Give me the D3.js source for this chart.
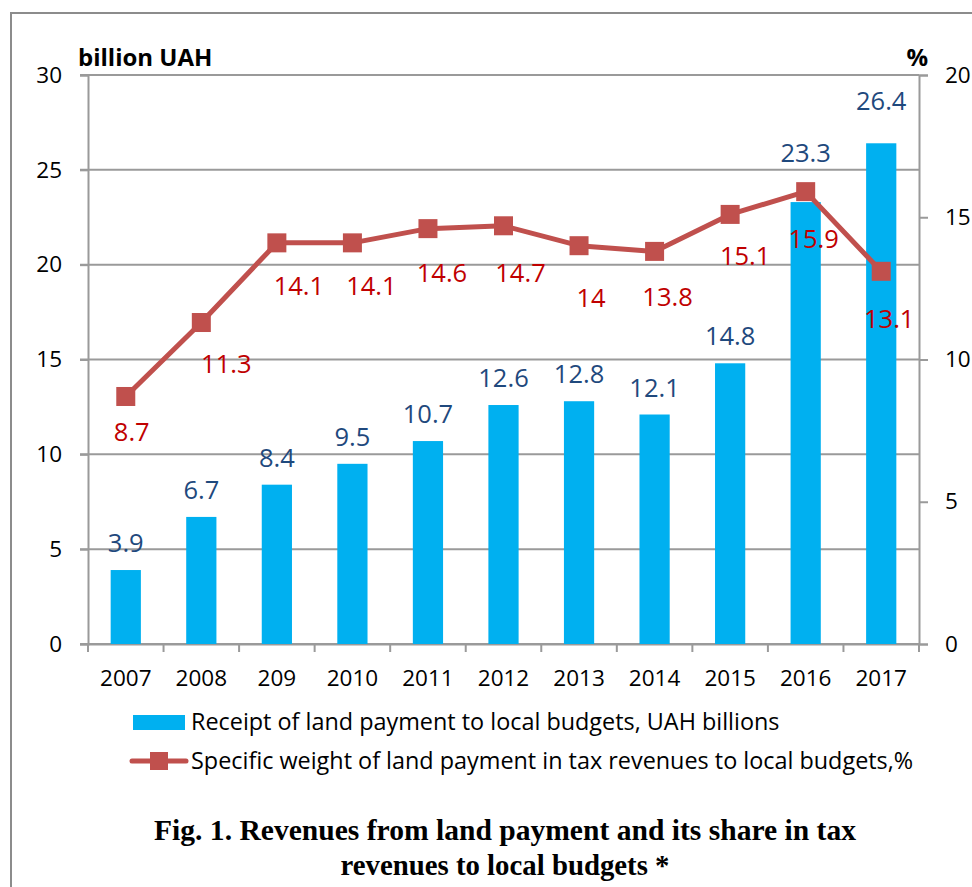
<!DOCTYPE html>
<html>
<head>
<meta charset="utf-8">
<script src="https://cdn.jsdelivr.net/npm/d3@7"></script>
<style>
  body { margin: 0; background: #fff; }
  text { font-family: 'Open Sans', sans-serif; }
</style>
</head>
<body>
<svg id="chart" width="972" height="887"></svg>
<script>
// data
const years = ["2007", "2008", "209", "2010", "2011", "2012", "2013", "2014", "2015", "2016", "2017"];
const receipts = [3.9, 6.7, 8.4, 9.5, 10.7, 12.6, 12.8, 12.1, 14.8, 23.3, 26.4];
const shares = [8.7, 11.3, 14.1, 14.1, 14.6, 14.7, 14, 13.8, 15.1, 15.9, 13.1];
const leftTicks = [0, 5, 10, 15, 20, 25, 30];
const rightTicks = [0, 5, 10, 15, 20];

// hand-placed label nudges (px), as in the original
const barLabelDy = [-18, -18, -18, -18, -18, -18, -18, -18, -18, -40, -33];
const shareLabelDx = [6, 25, 22, 19, 14, 17, 12, 13, 15, 8, 8];
const shareLabelDy = [45, 50, 52, 52, 53, 56, 61, 55, 51, 56, 57];

const svg = d3.select('#chart');
const plotL = 88, plotR = 919, plotT = 75, plotB = 644;
const gridColor = '#9a9a9a';

// outer frame
svg.append('rect')
  .attr('x', 11).attr('y', 13)
  .attr('width', 980).attr('height', 900)
  .attr('fill', 'none')
  .attr('stroke', '#8c8c8c')
  .attr('stroke-width', 2);

const x = d3.scaleBand().domain(years).range([plotL, plotR]);
const yL = d3.scaleLinear().domain([0, 30]).range([plotB, plotT]);
const yR = d3.scaleLinear().domain([0, 20]).range([plotB, plotT]);

// gridlines
svg.append('g').selectAll('line')
  .data(leftTicks)
  .enter().append('line')
  .attr('x1', plotL - 8).attr('x2', plotR)
  .attr('y1', d => yL(d)).attr('y2', d => yL(d))
  .attr('stroke', gridColor).attr('stroke-width', 2);

// left axis
const yAxisL = svg.append('g')
  .attr('transform', 'translate(' + plotL + ',0)')
  .call(d3.axisLeft(yL).tickValues(leftTicks).tickSize(8).tickPadding(18));
yAxisL.selectAll('line, path').attr('stroke', gridColor).attr('stroke-width', 2);
yAxisL.selectAll('text')
  .style('font-family', 'Open Sans')
  .style('font-size', '22.5px')
  .style('fill', '#000');

// right axis
const yAxisR = svg.append('g')
  .attr('transform', 'translate(' + plotR + ',0)')
  .call(d3.axisRight(yR).tickValues(rightTicks).tickSize(9).tickPadding(17));
yAxisR.selectAll('line, path').attr('stroke', gridColor).attr('stroke-width', 2);
yAxisR.selectAll('text')
  .style('font-family', 'Open Sans')
  .style('font-size', '22.5px')
  .style('fill', '#000');

// bottom axis: labels at centres, ticks on band edges
const xAxisG = svg.append('g')
  .attr('transform', 'translate(0,' + plotB + ')')
  .call(d3.axisBottom(x).tickSize(0).tickPadding(26));
xAxisG.select('.domain').attr('stroke', gridColor).attr('stroke-width', 2);
xAxisG.selectAll('text')
  .style('font-family', 'Open Sans')
  .style('font-size', '22.5px')
  .style('fill', '#000');
xAxisG.selectAll('.edge')
  .data(years.concat(['end']))
  .enter().append('line')
  .attr('class', 'edge')
  .attr('x1', (d, i) => plotL + i * x.step())
  .attr('x2', (d, i) => plotL + i * x.step())
  .attr('y1', 0).attr('y2', 8)
  .attr('stroke', gridColor).attr('stroke-width', 2);

// bars
const barW = x.bandwidth() * 0.4;
svg.append('g').selectAll('rect')
  .data(receipts)
  .enter().append('rect')
  .attr('x', (d, i) => x(years[i]) + (x.bandwidth() - barW) / 2)
  .attr('y', d => yL(d))
  .attr('width', barW)
  .attr('height', d => plotB - yL(d))
  .attr('fill', '#00b0f0');

svg.append('g').selectAll('text')
  .data(receipts)
  .enter().append('text')
  .attr('x', (d, i) => x(years[i]) + x.bandwidth() / 2)
  .attr('y', (d, i) => yL(d) + barLabelDy[i])
  .attr('text-anchor', 'middle')
  .style('font-size', '25.5px')
  .style('fill', '#1f497d')
  .text(d => d);

// share line
const cx = (d, i) => x(years[i]) + x.bandwidth() / 2;
const line = d3.line().x(cx).y(d => yR(d));
svg.append('path')
  .datum(shares)
  .attr('d', line)
  .attr('fill', 'none')
  .attr('stroke', '#c0504d')
  .attr('stroke-width', 5)
  .attr('stroke-linejoin', 'round');

svg.append('g').selectAll('rect')
  .data(shares)
  .enter().append('rect')
  .attr('x', (d, i) => cx(d, i) - 9.5)
  .attr('y', d => yR(d) - 9.5)
  .attr('width', 19).attr('height', 19)
  .attr('fill', '#c0504d');

svg.append('g').selectAll('text')
  .data(shares)
  .enter().append('text')
  .attr('x', (d, i) => cx(d, i) + shareLabelDx[i])
  .attr('y', (d, i) => yR(d) + shareLabelDy[i])
  .attr('text-anchor', 'middle')
  .style('font-size', '25.5px')
  .style('fill', '#c00000')
  .text(d => d);

// axis titles
svg.append('text')
  .attr('x', 78).attr('y', 66)
  .style('font-size', '24px').style('font-weight', 'bold')
  .text('billion UAH');
svg.append('text')
  .attr('x', 928).attr('y', 66)
  .attr('text-anchor', 'end')
  .style('font-size', '24px').style('font-weight', 'bold')
  .text('%');

// legend
const legend = svg.append('g');
legend.append('rect')
  .attr('x', 133).attr('y', 715)
  .attr('width', 52).attr('height', 15)
  .attr('fill', '#00b0f0');
legend.append('text')
  .attr('x', 191).attr('y', 730)
  .style('font-size', '23.4px')
  .text('Receipt of land payment to local budgets, UAH billions');
legend.append('line')
  .attr('x1', 132).attr('x2', 186)
  .attr('y1', 761).attr('y2', 761)
  .attr('stroke', '#c0504d').attr('stroke-width', 5)
  .attr('stroke-linecap', 'round');
legend.append('rect')
  .attr('x', 150).attr('y', 752)
  .attr('width', 18).attr('height', 18)
  .attr('fill', '#c0504d');
legend.append('text')
  .attr('x', 191).attr('y', 769)
  .style('font-size', '23.4px')
  .text('Specific weight of land payment in tax revenues to local budgets,%');

// caption
const caption = [
  {text: 'Fig. 1. Revenues from land payment and its share in tax', y: 840, w: 702},
  {text: 'revenues to local budgets *', y: 875, w: 329}
];
svg.append('g').selectAll('text')
  .data(caption)
  .enter().append('text')
  .attr('x', 505)
  .attr('y', d => d.y)
  .attr('text-anchor', 'middle')
  .attr('textLength', d => d.w)
  .attr('lengthAdjust', 'spacingAndGlyphs')
  .style('font-family', "'Liberation Serif', serif")
  .style('font-weight', 'bold')
  .style('font-size', '30px')
  .text(d => d.text);
</script>
</body>
</html>
